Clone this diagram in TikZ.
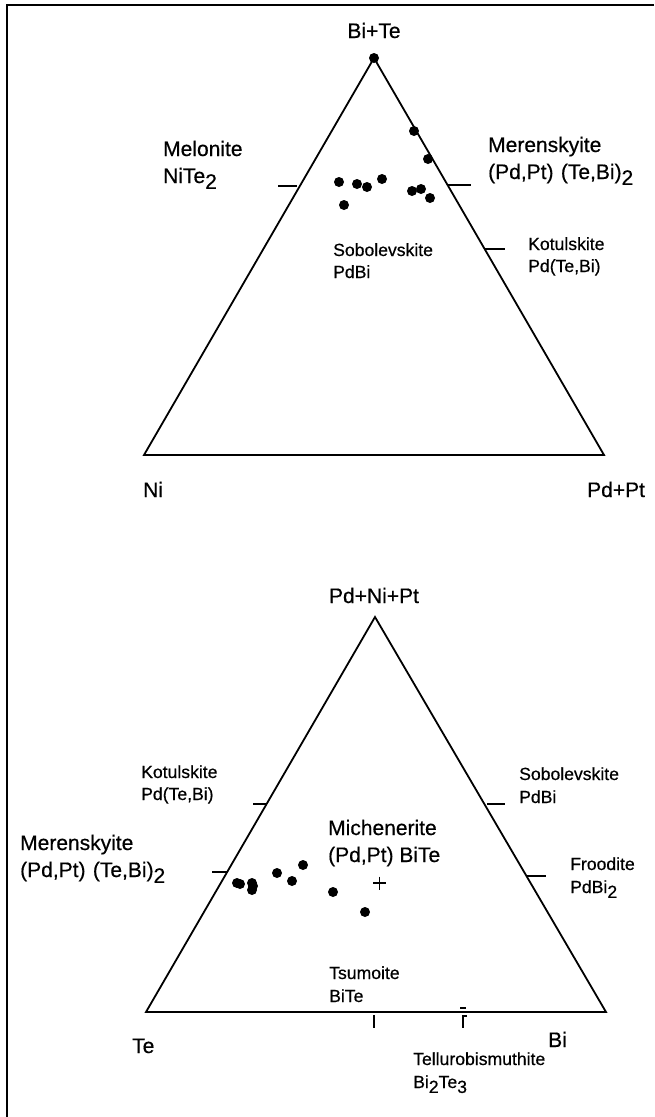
\documentclass[tikz,border=0pt]{standalone}
\usepackage{fontspec}
\setmainfont{Liberation Sans}[FakeBold=0.5]
\newcommand\lowd[1]{\raisebox{-0.28em}{#1}}
\tikzset{
  big/.style={font=\fontsize{21}{25}\selectfont, inner sep=0pt, anchor=base west},
  small/.style={font=\fontsize{17.6}{21}\selectfont, inner sep=0pt, anchor=base west},
  side/.style={line width=1.8pt, line join=miter},
  tickmark/.style={line width=1.8pt},
  frame/.style={line width=2.4pt},
  pt/.style={fill=black, draw=none},
}
\begin{document}
\begin{tikzpicture}[x=1pt,y=-1pt]
\useasboundingbox (0,0) rectangle (654,1117);
% frame
\draw[frame] (654,5) -- (7,5) -- (7,1117);

% ---------- top diagram ----------
\coordinate (A) at (374,58);
\coordinate (B) at (144,455);
\coordinate (C) at (604,455);
\draw[side] (A) -- (B) -- (C) -- cycle;

\node[big, anchor=base] (bite) at (374,38) {Bi+Te};
\node[big] (ni) at (143,497) {Ni};
\node[big] (pdpt) at (587,497) {Pd+Pt};
\node[big] (mel1) at (163,156) {Melonite};
\node[big] (mel2) at (163,183) {NiTe\lowd{2}};
\node[big] (mer1) at (488,152) {Merenskyite};
\node[big] (mer2) at (488,179) {(Pd,Pt)\hspace{0.35em}(Te,Bi)\lowd{2}};
\node[small] (kot1) at (528,250) {Kotulskite};
\node[small] (kot2) at (528,272) {Pd(Te,Bi)};
\node[small] (sob1) at (333,256) {Sobolevskite};
\node[small] (sob2) at (333,278) {PdBi};

\draw[tickmark] (278,186) -- (297,186);
\draw[tickmark] (447,185) -- (471,185);
\draw[tickmark] (484,249) -- (505,249);

\foreach \p in {(374,58),(414,131),(428,159),(339,182),(357,184),(367,187),(382,179),(344,205),(412,191),(421,189),(430,198)}
  \fill[pt] \p circle (5);

% ---------- bottom diagram ----------
\coordinate (D) at (375,617);
\coordinate (E) at (146,1012);
\coordinate (F) at (606,1012);
\draw[side] (D) -- (E) -- (F) -- cycle;

\node[big, anchor=base] (pnp) at (374,603) {Pd+Ni+Pt};
\node[small] (bkot1) at (141,778) {Kotulskite};
\node[small] (bkot2) at (141,800) {Pd(Te,Bi)};
\node[small] (bsob1) at (519,780) {Sobolevskite};
\node[small] (bsob2) at (519,803) {PdBi};
\node[big] (mic1) at (328,835) {Michenerite};
\node[big] (mic2) at (328,862) {(Pd,Pt) BiTe};
\node[big] (bmer1) at (20,850) {Merenskyite};
\node[big] (bmer2) at (20,877) {(Pd,Pt)\hspace{0.35em}(Te,Bi)\lowd{2}};
\node[small] (fro1) at (570,870) {Froodite};
\node[small] (fro2) at (570,893) {PdBi\lowd{2}};
\node[small] (tsu1) at (329,979) {Tsumoite};
\node[small] (tsu2) at (329,1002) {BiTe};
\node[big] (te) at (132,1053) {Te};
\node[big] (bi) at (548,1047) {Bi};
\node[small] (tel1) at (413,1065) {Tellurobismuthite};
\node[small] (tel2) at (413,1088) {Bi\lowd{2}Te\lowd{3}};

\draw[tickmark] (253,804) -- (266,804);
\draw[tickmark] (212,872) -- (227,872);
\draw[tickmark] (487,804) -- (505,804);
\draw[tickmark] (526,876) -- (546,876);
\draw[tickmark] (374,1015) -- (374,1028);
\draw[tickmark] (463,1015) -- (463,1028);
\draw[line width=1.2pt] (462,1016) -- (467,1016);
\draw[line width=1.2pt] (460,1008) -- (466,1008);

\foreach \p in {(237,883),(240,884),(252,883),(252,890),(253,886),(277,873),(292,881),(303,865),(333,892),(365,912)}
  \fill[pt] \p circle (5);
\draw[line width=1.5pt] (373,883) -- (386,883) (379.5,876.5) -- (379.5,889.5);
\end{tikzpicture}
\end{document}
